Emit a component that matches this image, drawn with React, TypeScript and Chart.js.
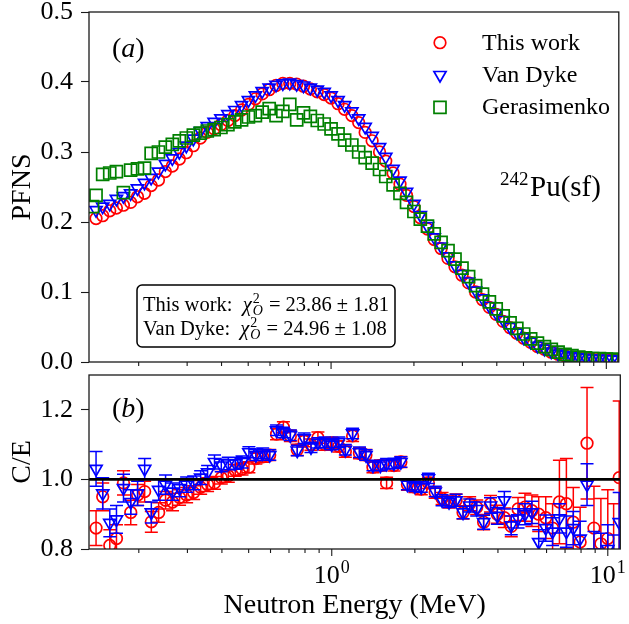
import React, { useEffect, useRef } from 'react';
import { Chart, registerables } from 'chart.js';

Chart.register(...registerables);

// ---------------- data ----------------
const energies = [
  0.14, 0.148, 0.157, 0.166, 0.176, 0.187, 0.198, 0.21, 0.222, 0.236,
  0.25, 0.265, 0.281, 0.298, 0.316, 0.335, 0.355, 0.376, 0.398, 0.422,
  0.447, 0.473, 0.501, 0.531, 0.562, 0.596, 0.631, 0.668, 0.708, 0.75,
  0.794, 0.841, 0.891, 0.944, 1.0, 1.06, 1.12, 1.19, 1.26, 1.33,
  1.41, 1.5, 1.58, 1.68, 1.78, 1.88, 2.0, 2.11, 2.24, 2.37,
  2.51, 2.66, 2.82, 2.99, 3.16, 3.35, 3.55, 3.76, 3.98, 4.22,
  4.47, 4.73, 5.01, 5.31, 5.62, 5.96, 6.31, 6.68, 7.08, 7.5,
  7.94, 8.41, 8.91, 9.44, 10.0, 10.5, 11.0,
];

const pfnsThisWork = [
  0.205, 0.209, 0.216, 0.220, 0.224, 0.228, 0.236, 0.241, 0.252, 0.260,
  0.272, 0.280, 0.290, 0.299, 0.309, 0.320, 0.328, 0.333, 0.339, 0.345,
  0.352, 0.360, 0.368, 0.376, 0.383, 0.389, 0.395, 0.398, 0.398, 0.397,
  0.394, 0.390, 0.386, 0.382, 0.377, 0.369, 0.361, 0.352, 0.342, 0.328,
  0.316, 0.300, 0.287, 0.270, 0.254, 0.238, 0.222, 0.206, 0.190, 0.175,
  0.162, 0.148, 0.136, 0.124, 0.113, 0.100, 0.089, 0.078, 0.068, 0.058,
  0.049, 0.041, 0.034, 0.028, 0.022, 0.018, 0.014, 0.011, 0.009, 0.007,
  0.006, 0.005, 0.004, 0.004, 0.003, 0.003, 0.002,
];

const pfnsVanDyke = [
  0.217, 0.222, 0.226, 0.233, 0.237, 0.241, 0.248, 0.256, 0.263, 0.272,
  0.283, 0.291, 0.300, 0.309, 0.319, 0.330, 0.337, 0.343, 0.348, 0.354,
  0.360, 0.367, 0.374, 0.381, 0.387, 0.392, 0.396, 0.398, 0.399, 0.397,
  0.395, 0.392, 0.389, 0.386, 0.381, 0.374, 0.367, 0.358, 0.348, 0.336,
  0.323, 0.307, 0.293, 0.276, 0.259, 0.243, 0.226, 0.210, 0.194, 0.178,
  0.165, 0.151, 0.138, 0.126, 0.115, 0.102, 0.091, 0.080, 0.070, 0.060,
  0.050, 0.042, 0.035, 0.029, 0.023, 0.019, 0.015, 0.012, 0.010, 0.008,
  0.007, 0.006, 0.005, 0.005, 0.004, 0.004, 0.003,
];

const energiesGerasimenko = [
  0.136, 0.14, 0.148, 0.157, 0.166, 0.176, 0.187, 0.198, 0.21, 0.222, 0.236,
  0.25, 0.265, 0.281, 0.298, 0.316, 0.335, 0.355, 0.376, 0.398, 0.422,
  0.447, 0.473, 0.501, 0.531, 0.562, 0.596, 0.631, 0.668, 0.708, 0.75,
  0.794, 0.841, 0.891, 0.944, 1.0, 1.06, 1.12, 1.19, 1.26, 1.33,
  1.41, 1.5, 1.58, 1.68, 1.78, 1.88, 2.0, 2.11, 2.24, 2.37,
  2.51, 2.66, 2.82, 2.99, 3.16, 3.35, 3.55, 3.76, 3.98, 4.22,
  4.47, 4.73, 5.01, 5.31, 5.62, 5.96, 6.31, 6.68, 7.08, 7.5,
  7.94, 8.41, 8.91, 9.44, 10.0, 10.5, 11.0,
];

const pfnsGerasimenko = [
  0.222, 0.238, 0.268, 0.270, 0.272, 0.242, 0.274, 0.276, 0.277, 0.298, 0.300,
  0.307, 0.311, 0.316, 0.320, 0.324, 0.327, 0.330, 0.332, 0.335, 0.339,
  0.343, 0.346, 0.350, 0.352, 0.357, 0.362, 0.352, 0.358, 0.368, 0.346,
  0.356, 0.351, 0.345, 0.340, 0.333, 0.326, 0.317, 0.310, 0.300, 0.292,
  0.284, 0.275, 0.265, 0.253, 0.241, 0.228, 0.215, 0.204, 0.194, 0.183,
  0.171, 0.159, 0.147, 0.134, 0.122, 0.109, 0.097, 0.086, 0.076, 0.066,
  0.056, 0.048, 0.040, 0.033, 0.027, 0.022, 0.018, 0.014, 0.011, 0.009,
  0.007, 0.006, 0.005, 0.005, 0.004, 0.004, 0.003,
];

const ceThisWork = [
  0.86, 0.95, 0.81, 0.83, 0.99, 0.905, 0.955, 0.965, 0.878, 0.905,
  0.94, 0.935, 0.948, 0.955, 0.962, 0.977, 0.985, 0.99, 1.005, 1.01,
  1.026, 1.03, 1.035, 1.06, 1.065, 1.07, 1.13, 1.15, 1.125, 1.085,
  1.11, 1.1, 1.12, 1.1, 1.105, 1.095, 1.08, 1.125, 1.075, 1.07,
  1.035, 1.04, 0.99, 1.04, 1.05, 0.985, 0.978, 0.972, 0.99, 0.962,
  0.945, 0.935, 0.94, 0.905, 0.93, 0.92, 0.877, 0.93, 0.9, 0.89,
  0.865, 0.915, 0.92, 0.91, 0.9, 0.89, 0.86, 0.935, 0.93, 0.877,
  0.82, 1.104, 0.86, 0.815, 0.83, 0.78, 1.005,
];

const ceThisWorkErr = [
  0.05, 0.04, 0.045, 0.04, 0.035, 0.035, 0.03, 0.03, 0.03, 0.028,
  0.025, 0.025, 0.022, 0.022, 0.02, 0.02, 0.02, 0.018, 0.018, 0.018,
  0.017, 0.017, 0.016, 0.016, 0.016, 0.016, 0.016, 0.016, 0.016, 0.016,
  0.016, 0.016, 0.016, 0.016, 0.016, 0.016, 0.016, 0.016, 0.016, 0.016,
  0.016, 0.016, 0.016, 0.016, 0.016, 0.016, 0.016, 0.016, 0.016, 0.016,
  0.017, 0.017, 0.018, 0.019, 0.02, 0.021, 0.022, 0.024, 0.026, 0.028,
  0.03, 0.033, 0.04, 0.045, 0.05, 0.06, 0.07, 0.12, 0.13, 0.1,
  0.1, 0.16, 0.12, 0.13, 0.14, 0.15, 0.22,
];

const ceVanDyke = [
  1.03, 0.96, 0.875, 0.885, 0.975, 0.935, 0.96, 1.03, 0.905, 0.97,
  0.985, 0.965, 0.975, 0.985, 0.99, 1.005, 1.02, 1.05, 1.04, 1.046,
  1.046, 1.05, 1.078, 1.07, 1.075, 1.07, 1.141, 1.135, 1.127, 1.083,
  1.118, 1.092, 1.105, 1.107, 1.1, 1.107, 1.085, 1.132, 1.078, 1.07,
  1.04, 1.04, 1.045, 1.046, 1.05, 0.985, 0.98, 0.978, 1.003, 0.965,
  0.94, 0.935, 0.94, 0.905, 0.925, 0.915, 0.877, 0.925, 0.895, 0.94,
  0.868, 0.888, 0.9, 0.905, 0.82, 0.86, 0.85, 0.888, 0.85, 0.86,
  0.83, 0.985, 0.79, 0.78, 0.8, 0.77, 0.877,
];

const ceVanDykeErr = [
  0.05, 0.045, 0.04, 0.04, 0.04, 0.035, 0.035, 0.03, 0.03, 0.03,
  0.028, 0.025, 0.025, 0.022, 0.02, 0.02, 0.02, 0.02, 0.018, 0.018,
  0.017, 0.017, 0.016, 0.016, 0.015, 0.015, 0.015, 0.015, 0.015, 0.015,
  0.015, 0.015, 0.015, 0.015, 0.015, 0.015, 0.015, 0.015, 0.015, 0.015,
  0.015, 0.015, 0.015, 0.015, 0.015, 0.015, 0.015, 0.015, 0.015, 0.015,
  0.016, 0.016, 0.017, 0.018, 0.019, 0.02, 0.02, 0.022, 0.024, 0.025,
  0.027, 0.028, 0.03, 0.032, 0.035, 0.038, 0.04, 0.042, 0.045, 0.048,
  0.05, 0.06, 0.06, 0.065, 0.07, 0.07, 0.085,
];

const X_MIN = 0.132;
const X_MAX = 11.1;
const pfnsTicks = [0, 0.1, 0.2, 0.3, 0.4, 0.5];
const ceTicks = [0.8, 1.0, 1.2];
const xMajorTicks = [1, 10];
const xMinorTicks = [0.2, 0.3, 0.4, 0.5, 0.6, 0.7, 0.8, 0.9, 2, 3, 4, 5, 6, 7, 8, 9];
const REF_CE = 1.0;
const seriesLabels = ['This work', 'Van Dyke', 'Gerasimenko'];
const chiRows = [
  { name: 'This work:', value: '23.86', err: '1.81' },
  { name: 'Van Dyke:', value: '24.96', err: '1.08' },
];

// ---------------- style ----------------
const W = 629;
const H = 624;
const SERIF = '"Liberation Serif", "Times New Roman", serif';
const RED = '#ff0000';
const BLUE = '#0000ff';
const GREEN = '#008000';
const AXIS = '#1a1a1a';
const MARK_LW = 1.7;

const pts = (xs: number[], ys: number[]) => xs.map((x, i) => ({ x, y: ys[i] }));

function drawRuns(ctx: CanvasRenderingContext2D, x: number, y: number, runs: { t: string; f: string; dy?: number }[]) {
  for (const r of runs) {
    ctx.font = r.f;
    ctx.fillText(r.t, x, y + (r.dy || 0));
    x += ctx.measureText(r.t).width;
  }
  return x;
}

function drawMarker(ctx: CanvasRenderingContext2D, kind: string, x: number, y: number, color: string) {
  ctx.save();
  ctx.strokeStyle = color;
  ctx.lineWidth = MARK_LW;
  ctx.beginPath();
  if (kind === 'circle') {
    ctx.arc(x, y, 5.8, 0, Math.PI * 2);
  } else if (kind === 'tri') {
    const r = 7;
    ctx.moveTo(x, y + r);
    ctx.lineTo(x - r * Math.sin(Math.PI / 3), y - r / 2);
    ctx.lineTo(x + r * Math.sin(Math.PI / 3), y - r / 2);
    ctx.closePath();
  } else {
    const s = 6;
    ctx.rect(x - s, y - s, 2 * s, 2 * s);
  }
  ctx.stroke();
  ctx.restore();
}

function drawFrameAndXTicks(chart: any) {
  const { ctx, chartArea: a, scales } = chart;
  const xs = scales.x;
  ctx.save();
  ctx.strokeStyle = AXIS;
  ctx.lineWidth = 1.3;
  ctx.strokeRect(a.left, a.top, a.right - a.left, a.bottom - a.top);
  ctx.lineWidth = 1.1;
  ctx.beginPath();
  for (const v of xMajorTicks) {
    const px = xs.getPixelForValue(v);
    ctx.moveTo(px, a.bottom);
    ctx.lineTo(px, a.bottom + 7);
  }
  for (const v of xMinorTicks) {
    const px = xs.getPixelForValue(v);
    ctx.moveTo(px, a.bottom);
    ctx.lineTo(px, a.bottom + 4);
  }
  ctx.stroke();
  ctx.restore();
}

function drawPanelLabel(ctx: CanvasRenderingContext2D, letter: string, x: number, y: number) {
  ctx.save();
  ctx.fillStyle = '#000';
  ctx.textBaseline = 'alphabetic';
  drawRuns(ctx, x, y, [
    { t: '(', f: `28px ${SERIF}` },
    { t: letter, f: `italic 28px ${SERIF}` },
    { t: ')', f: `28px ${SERIF}` },
  ]);
  ctx.restore();
}

function drawVerticalTitle(ctx: CanvasRenderingContext2D, text: string, x: number, cy: number, size: number) {
  ctx.save();
  ctx.fillStyle = '#000';
  ctx.font = `${size}px ${SERIF}`;
  ctx.translate(x, cy);
  ctx.rotate(-Math.PI / 2);
  ctx.textAlign = 'center';
  ctx.textBaseline = 'alphabetic';
  ctx.fillText(text, 0, 0);
  ctx.restore();
}

const errorBarPlugin = {
  id: 'errbars',
  beforeDatasetDraw(chart: any, args: any) {
    const ds = chart.data.datasets[args.index];
    if (!ds.errors) return;
    const { ctx, chartArea: a, scales } = chart;
    ctx.save();
    ctx.beginPath();
    ctx.rect(a.left, a.top, a.right - a.left, a.bottom - a.top);
    ctx.clip();
    ctx.strokeStyle = ds.borderColor;
    ctx.lineWidth = 1.5;
    ctx.beginPath();
    ds.data.forEach((p: any, i: number) => {
      const e = ds.errors[i];
      const px = scales.x.getPixelForValue(p.x);
      const y0 = scales.y.getPixelForValue(p.y - e);
      const y1 = scales.y.getPixelForValue(p.y + e);
      ctx.moveTo(px, y0);
      ctx.lineTo(px, y1);
      ctx.moveTo(px - 6.5, y0);
      ctx.lineTo(px + 6.5, y0);
      ctx.moveTo(px - 6.5, y1);
      ctx.lineTo(px + 6.5, y1);
    });
    ctx.stroke();
    ctx.restore();
  },
};

const topDecor = {
  id: 'topDecor',
  afterDraw(chart: any) {
    const { ctx } = chart;
    drawFrameAndXTicks(chart);
    drawPanelLabel(ctx, 'a', 112, 57);
    drawVerticalTitle(ctx, 'PFNS', 30, 187, 28);

    // legend
    const kinds = ['circle', 'tri', 'square'];
    const colors = [RED, BLUE, GREEN];
    const rowsY = [42.7, 75, 107.4];
    ctx.save();
    ctx.fillStyle = '#000';
    ctx.font = `24px ${SERIF}`;
    ctx.textBaseline = 'alphabetic';
    seriesLabels.forEach((lab, i) => {
      drawMarker(ctx, kinds[i], 440, rowsY[i], colors[i]);
      ctx.fillText(lab, 482, rowsY[i] + 7);
    });
    ctx.restore();

    // nucleus label
    ctx.save();
    ctx.fillStyle = '#000';
    drawRuns(ctx, 500, 185, [{ t: '242', f: `19px ${SERIF}` }]);
    drawRuns(ctx, 530, 196, [{ t: 'Pu(sf)', f: `29px ${SERIF}` }]);
    ctx.restore();

    // chi-square box
    ctx.save();
    const bx = 137, by = 285, bw = 258, bh = 62, r = 5;
    ctx.beginPath();
    ctx.moveTo(bx + r, by);
    ctx.lineTo(bx + bw - r, by);
    ctx.arcTo(bx + bw, by, bx + bw, by + r, r);
    ctx.lineTo(bx + bw, by + bh - r);
    ctx.arcTo(bx + bw, by + bh, bx + bw - r, by + bh, r);
    ctx.lineTo(bx + r, by + bh);
    ctx.arcTo(bx, by + bh, bx, by + bh - r, r);
    ctx.lineTo(bx, by + r);
    ctx.arcTo(bx, by, bx + r, by, r);
    ctx.closePath();
    ctx.fillStyle = '#fff';
    ctx.fill();
    ctx.strokeStyle = '#000';
    ctx.lineWidth = 1.5;
    ctx.stroke();
    ctx.fillStyle = '#000';
    const base = [311, 335];
    chiRows.forEach((row, i) => {
      const y = base[i];
      let x = drawRuns(ctx, 143, y, [
        { t: row.name + '  ', f: `20.5px ${SERIF}` },
        { t: 'χ', f: `italic 20.5px ${SERIF}` },
      ]);
      ctx.font = `14px ${SERIF}`;
      ctx.fillText('2', x + 1, y - 8);
      const w2 = ctx.measureText('2').width;
      ctx.font = `italic 14px ${SERIF}`;
      ctx.fillText('O', x + 1, y + 4);
      const wO = ctx.measureText('O').width;
      x += Math.max(w2, wO) + 2;
      drawRuns(ctx, x, y, [{ t: ` = ${row.value} ± ${row.err}`, f: `20.5px ${SERIF}` }]);
    });
    ctx.restore();
  },
};

const bottomDecor = {
  id: 'bottomDecor',
  afterDraw(chart: any) {
    const { ctx, scales } = chart;
    drawFrameAndXTicks(chart);
    drawPanelLabel(ctx, 'b', 112, 417);
    drawVerticalTitle(ctx, 'C/E', 30, 462, 28);
    // x tick labels 10^n
    ctx.save();
    ctx.fillStyle = '#000';
    ctx.textBaseline = 'alphabetic';
    for (const v of xMajorTicks) {
      const px = scales.x.getPixelForValue(v);
      const exp = String(Math.round(Math.log10(v)));
      ctx.font = `26px ${SERIF}`;
      const wb = ctx.measureText('10').width;
      ctx.font = `18px ${SERIF}`;
      const we = ctx.measureText(exp).width;
      const x0 = px - (wb + we + 1) / 2;
      ctx.font = `26px ${SERIF}`;
      ctx.fillText('10', x0, 583);
      ctx.font = `18px ${SERIF}`;
      ctx.fillText(exp, x0 + wb + 1, 573);
    }
    ctx.font = `28px ${SERIF}`;
    ctx.textAlign = 'center';
    const a = chart.chartArea;
    ctx.fillText('Neutron Energy (MeV)', (a.left + a.right) / 2, 613);
    ctx.restore();
  },
};

function yScale(min: number, max: number, ticks: number[], digits: number) {
  return {
    type: 'linear' as const,
    min,
    max,
    afterBuildTicks: (s: any) => {
      s.ticks = ticks.map((v) => ({ value: v }));
    },
    afterFit: (s: any) => {
      s.width = 89;
      s.paddingTop = 0;
      s.paddingBottom = 0;
    },
    ticks: {
      padding: 8,
      color: '#000',
      font: { family: SERIF, size: 26 },
      callback: (v: any) => Number(v).toFixed(digits),
    },
    grid: {
      display: true,
      drawOnChartArea: false,
      drawTicks: true,
      tickLength: 8,
      tickColor: AXIS,
      tickWidth: 1.1,
    },
    border: { display: false },
  };
}

function xScale(height: number) {
  return {
    type: 'logarithmic' as const,
    min: X_MIN,
    max: X_MAX,
    afterFit: (s: any) => {
      s.height = height;
      s.paddingLeft = 0;
      s.paddingRight = 0;
    },
    ticks: { display: false },
    grid: { display: false },
    border: { display: false },
  };
}

function makeTop(canvas: HTMLCanvasElement) {
  return new Chart(canvas, {
    type: 'scatter',
    data: {
      datasets: [
        {
          label: seriesLabels[0],
          data: pts(energies, pfnsThisWork),
          pointStyle: 'circle',
          pointRadius: 5.8,
          borderColor: RED,
          backgroundColor: 'transparent',
          borderWidth: MARK_LW,
          order: 3,
          clip: 0,
        },
        {
          label: seriesLabels[1],
          data: pts(energies, pfnsVanDyke),
          pointStyle: 'triangle',
          rotation: 180,
          pointRadius: 7,
          borderColor: BLUE,
          backgroundColor: 'transparent',
          borderWidth: MARK_LW,
          order: 2,
          clip: 0,
        },
        {
          label: seriesLabels[2],
          data: pts(energiesGerasimenko, pfnsGerasimenko),
          pointStyle: 'rect',
          pointRadius: 8.5,
          borderColor: GREEN,
          backgroundColor: 'transparent',
          borderWidth: MARK_LW,
          order: 1,
          clip: 0,
        },
      ] as any,
    },
    options: {
      responsive: false,
      animation: false,
      events: [],
      layout: { padding: { left: 0, top: 12, right: 1, bottom: 0 } },
      plugins: { legend: { display: false }, tooltip: { enabled: false } },
      scales: {
        x: xScale(H - 362) as any,
        y: yScale(0, 0.5, pfnsTicks, 1) as any,
      },
    },
    plugins: [topDecor],
  });
}

function makeBottom(canvas: HTMLCanvasElement) {
  return new Chart(canvas, {
    type: 'scatter',
    data: {
      datasets: [
        {
          label: seriesLabels[0],
          data: pts(energies, ceThisWork),
          errors: ceThisWorkErr,
          pointStyle: 'circle',
          pointRadius: 5.8,
          borderColor: RED,
          backgroundColor: 'transparent',
          borderWidth: MARK_LW,
          order: 3,
          clip: 0,
        },
        {
          label: seriesLabels[1],
          data: pts(energies, ceVanDyke),
          errors: ceVanDykeErr,
          pointStyle: 'triangle',
          rotation: 180,
          pointRadius: 7,
          borderColor: BLUE,
          backgroundColor: 'transparent',
          borderWidth: MARK_LW,
          order: 2,
          clip: 0,
        },
        {
          label: 'ref',
          data: [
            { x: X_MIN, y: REF_CE },
            { x: X_MAX, y: REF_CE },
          ],
          showLine: true,
          pointRadius: 0,
          borderColor: '#000',
          borderWidth: 2.6,
          order: 1,
          clip: 0,
        },
      ] as any,
    },
    options: {
      responsive: false,
      animation: false,
      events: [],
      layout: { padding: { left: 0, top: 375, right: 1, bottom: 0 } },
      plugins: { legend: { display: false }, tooltip: { enabled: false } },
      scales: {
        x: xScale(H - 549) as any,
        y: yScale(0.8, 1.3, ceTicks, 1) as any,
      },
    },
    plugins: [errorBarPlugin, bottomDecor],
  });
}

export default function App() {
  const topRef = useRef<HTMLCanvasElement>(null);
  const botRef = useRef<HTMLCanvasElement>(null);
  useEffect(() => {
    const c1 = makeTop(topRef.current as HTMLCanvasElement);
    const c2 = makeBottom(botRef.current as HTMLCanvasElement);
    return () => {
      c1.destroy();
      c2.destroy();
    };
  }, []);
  const cs: React.CSSProperties = { position: 'absolute', left: 0, top: 0, width: W, height: H };
  return (
    <div style={{ position: 'absolute', left: 0, top: 0, width: W, height: H, background: '#fff' }}>
      <canvas ref={topRef} width={W} height={H} style={cs} />
      <canvas ref={botRef} width={W} height={H} style={cs} />
    </div>
  );
}
